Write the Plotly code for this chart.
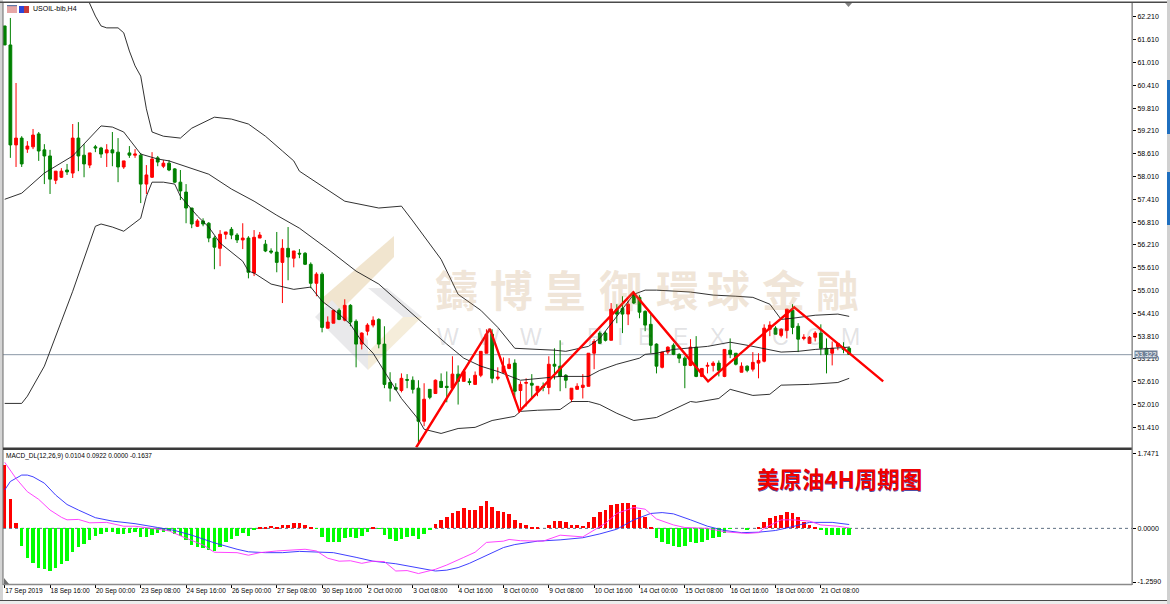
import plotly.graph_objects as go

# ---------- price data (H4 bars) ----------
open_ = [61.97,61.47,58.84,59.02,58.73,58.79,59.13,58.71,58.55,57.91,57.99,58.18,58.10,59.02,58.57,58.31,58.79,58.76,58.63,58.71,
58.65,58.26,58.63,58.57,58.57,57.81,57.99,58.50,58.28,58.36,58.21,57.86,57.60,57.18,56.70,56.84,56.78,56.39,56.12,56.49,
56.62,56.47,56.34,56.39,55.47,56.39,56.23,56.05,56.02,55.75,56.12,55.86,55.99,55.99,55.70,55.20,55.44,54.02,54.15,54.49,
54.23,54.62,54.20,53.60,53.94,54.10,54.25,53.60,52.59,52.46,52.38,52.67,52.65,52.44,51.57,52.41,52.30,52.62,52.49,52.44,
52.81,52.62,52.62,52.54,52.78,53.36,53.86,52.70,52.86,52.96,53.10,52.38,52.57,52.57,52.36,52.49,52.46,53.07,53.02,52.78,
52.15,52.41,52.46,52.49,53.36,53.89,53.89,53.70,54.52,54.54,54.39,54.91,54.83,54.46,54.12,53.60,52.99,53.39,53.57,53.33,
53.23,53.04,53.52,52.75,53.02,53.04,53.10,52.75,53.44,53.36,52.86,53.02,52.94,53.10,53.15,53.99,54.02,53.83,53.96,54.49,
54.07,53.75,53.62,53.78,53.89,53.49,53.36,53.54,53.52,53.49]
high = [61.97,62.18,60.47,59.07,58.94,59.26,59.18,58.86,58.71,58.15,58.23,58.34,59.39,59.44,58.86,58.63,58.84,58.79,58.86,59.18,
59.02,58.42,58.81,58.73,58.63,58.31,58.65,58.55,58.44,58.44,58.23,58.18,57.81,57.18,56.89,56.91,56.81,56.44,56.60,56.55,
56.68,56.52,56.78,56.44,56.60,56.55,56.34,56.12,56.55,56.36,56.68,56.05,56.10,56.02,55.75,55.49,55.49,54.33,54.49,54.54,
54.78,54.65,54.25,53.91,54.15,54.33,54.28,54.07,52.86,52.57,52.83,52.81,52.75,52.65,52.57,52.41,52.67,52.83,52.88,53.28,
53.04,52.94,52.70,52.88,53.41,53.99,53.99,52.99,53.25,53.23,53.20,52.62,52.70,52.81,52.49,52.59,53.28,53.49,53.70,52.81,
52.44,52.57,52.81,53.36,53.73,53.94,53.94,54.68,54.65,54.86,54.75,54.99,54.89,54.49,54.39,53.62,53.39,53.54,53.62,53.36,
53.28,53.73,53.81,52.96,53.12,53.15,53.17,53.46,53.75,53.36,53.12,53.04,53.39,53.36,54.12,54.20,54.07,54.02,54.52,54.65,
54.15,53.86,53.81,53.94,54.12,53.75,53.67,53.62,53.65,53.54]
low = [61.47,58.50,58.26,58.26,58.63,58.73,58.42,57.81,57.55,57.81,57.97,58.05,57.97,58.15,57.99,58.23,58.65,58.50,58.26,58.28,
57.86,58.21,58.50,58.50,57.31,57.55,57.97,58.28,58.23,58.15,57.84,57.39,56.78,56.65,56.68,56.70,56.28,55.57,55.65,56.36,
56.36,56.26,56.10,55.33,55.39,56.39,56.02,55.97,55.49,54.68,55.28,55.62,55.86,55.68,55.07,54.86,53.91,54.02,54.15,54.23,
54.20,54.07,52.99,53.46,53.83,54.04,53.49,52.44,52.09,52.38,52.33,52.44,52.30,50.99,51.44,52.15,52.30,52.46,52.07,52.44,
52.01,52.62,52.52,52.54,52.73,53.36,52.57,52.65,52.83,52.94,52.17,51.91,51.96,52.17,52.23,52.36,52.28,52.67,52.36,52.44,
52.07,52.41,52.17,52.49,52.94,53.60,53.67,53.70,54.15,53.89,54.10,54.65,54.28,53.94,53.36,52.83,52.96,53.33,53.31,53.10,
52.44,53.02,52.73,52.73,52.83,52.88,52.75,52.73,53.23,53.04,52.86,52.86,52.88,52.70,53.12,53.81,53.86,53.78,53.75,53.86,
53.39,53.70,53.62,53.67,53.31,52.83,53.04,53.44,53.36,53.33]
close = [61.47,58.84,59.02,58.34,58.81,59.10,58.68,58.55,57.94,58.15,58.15,58.13,59.02,58.55,58.34,58.63,58.76,58.60,58.71,58.63,
58.26,58.42,58.57,58.60,57.81,58.05,58.47,58.39,58.36,58.18,57.86,57.63,57.18,56.76,56.84,56.76,56.39,56.15,56.49,56.55,
56.47,56.34,56.39,55.49,56.41,56.47,56.05,56.02,55.75,56.12,55.89,56.05,55.97,55.70,55.20,55.44,54.04,54.18,54.49,54.25,
54.62,54.18,53.60,53.89,54.10,54.23,53.60,52.54,52.44,52.41,52.70,52.65,52.41,51.57,52.15,52.20,52.65,52.46,52.46,52.81,
52.62,52.88,52.59,52.78,53.41,53.86,52.70,52.73,53.02,53.07,52.36,52.54,52.59,52.52,52.49,52.46,53.07,53.02,52.75,52.65,
52.44,52.49,52.52,53.36,53.67,53.62,53.70,54.52,54.39,54.39,54.65,54.68,54.44,54.10,53.57,53.02,53.39,53.52,53.33,53.23,
53.04,53.52,52.75,52.96,53.04,53.10,52.91,53.46,53.33,53.07,53.02,52.91,53.12,53.17,54.02,54.10,53.86,53.99,54.52,54.04,
53.73,53.78,53.78,53.89,53.49,53.33,53.49,53.62,53.46,53.33]
bars = list(range(len(close)))
last_price = 53.322

# ---------- Bollinger bands (bar number, price) ----------
upper_bar = [14,15,16,17,18,20,21,22,23,24,25,26,28,31,33,37,40,43,46,49,51,52,60,66,70,72,75,77,80,84,87,90,97,99,103,105,108,111,113,115,121,125,129,132,135,137,139,143,147,149]
upper_val = [62.89,62.55,62.23,61.97,61.92,61.92,61.79,61.31,60.92,60.65,59.79,59.18,59.07,59.02,59.28,59.57,59.52,59.39,59.07,58.68,58.42,58.15,57.36,57.18,57.23,56.84,56.23,55.83,54.91,54.49,54.04,53.49,53.44,53.41,53.54,53.75,54.33,54.91,55.02,55.02,54.97,54.89,54.86,54.83,54.65,54.25,54.28,54.36,54.39,54.33]
mid_bar = [0,3,7,12,17,19,21,24,27,29,36,40,44,48,52,57,62,66,70,73,78,81,84,87,91,98,103,105,108,112,113,115,118,124,128,131,134,137,140,143,149]
mid_val = [57.41,57.57,58.10,58.55,59.34,59.31,59.18,58.60,58.47,58.42,58.07,57.68,57.36,56.99,56.65,56.10,55.52,55.18,54.65,54.25,53.60,53.23,53.02,52.88,52.65,52.75,52.75,52.91,53.07,53.23,53.33,53.36,53.46,53.54,53.65,53.57,53.49,53.39,53.41,53.46,53.52]
lower_bar = [0,3,4,7,10,12,16,17,19,21,24,25,26,28,30,31,34,36,38,42,43,44,47,51,54,56,59,61,63,65,67,70,73,74,77,80,83,86,90,91,94,98,100,103,105,108,111,115,121,122,126,128,132,135,137,142,147,149]
lower_val = [52.04,52.04,52.23,53.02,54.20,54.99,56.70,56.76,56.68,56.57,56.91,57.49,57.86,57.86,57.81,57.49,56.97,56.68,56.26,55.78,55.52,55.47,55.18,55.04,55.10,54.73,54.39,54.12,53.67,53.36,52.88,52.17,51.62,51.36,51.25,51.38,51.41,51.59,51.70,51.83,51.86,51.88,52.09,52.09,52.01,51.78,51.59,51.67,52.09,52.07,52.17,52.41,52.25,52.28,52.52,52.54,52.59,52.70]

# ---------- hand-drawn red trend line ----------
trend_bar = [72.6,85.6,90.8,110.9,124.1,139.3,155.0]
trend_val = [50.88,54.00,51.83,54.96,52.62,54.57,52.62]

# ---------- MACD ----------
hist = [1.49,0.69,0.125,-0.41,-0.70,-0.82,-0.92,-0.95,-1.00,-0.92,-0.84,-0.76,-0.55,-0.43,-0.36,-0.27,-0.17,-0.125,-0.09,-0.08,
-0.13,-0.125,-0.11,-0.09,-0.20,-0.20,-0.16,-0.11,-0.08,-0.06,-0.13,-0.18,-0.28,-0.39,-0.44,-0.45,-0.50,-0.52,-0.43,-0.33,
-0.25,-0.18,-0.10,-0.17,-0.05,0.02,0.04,0.055,0.03,0.07,0.08,0.12,0.12,0.09,0.01,-0.01,-0.21,-0.31,-0.33,-0.31,
-0.23,-0.20,-0.22,-0.17,-0.09,0.02,-0.01,-0.16,-0.26,-0.29,-0.26,-0.20,-0.18,-0.24,-0.125,-0.03,0.10,0.19,0.26,0.36,
0.41,0.47,0.43,0.43,0.52,0.64,0.51,0.41,0.38,0.34,0.20,0.125,0.08,0.04,0.03,0.0,0.09,0.17,0.17,0.14,
0.09,0.07,0.055,0.14,0.27,0.38,0.43,0.55,0.58,0.59,0.60,0.55,0.43,0.27,0.03,-0.22,-0.33,-0.37,-0.41,-0.43,
-0.42,-0.33,-0.34,-0.33,-0.27,-0.22,-0.20,-0.10,-0.01,0.0,0.0,-0.03,0.0,0.01,0.15,0.25,0.29,0.31,0.38,0.35,
0.26,0.14,0.08,0.03,-0.05,-0.15,-0.16,-0.16,-0.15,-0.16]
signal_bar = [0,1,3,4,5,7,9,11,13,16,19,23,27,30,33,37,41,43,46,49,52,56,58,62,65,69,73,76,78,80,82,85,88,90,94,98,102,105,108,111,114,116,118,121,124,127,130,133,136,139,142,146,149]
signal_val = [0.90,1.10,1.25,1.25,1.21,1.06,0.78,0.56,0.43,0.25,0.17,0.11,0.02,-0.05,-0.16,-0.34,-0.49,-0.55,-0.57,-0.57,-0.54,-0.55,-0.57,-0.68,-0.77,-0.83,-0.92,-1.00,-0.98,-0.92,-0.82,-0.63,-0.45,-0.38,-0.30,-0.27,-0.22,-0.13,-0.02,0.20,0.35,0.37,0.34,0.20,0.05,-0.05,-0.10,-0.09,-0.05,0.04,0.14,0.14,0.09]
macd_bar = [0,2,4,6,8,10,11,13,15,18,21,23,26,29,32,35,37,39,41,43,45,48,53,55,57,59,61,63,65,67,69,71,73,76,78,81,83,85,88,89,91,95,98,102,105,106,108,111,113,115,118,120,124,127,131,133,134,137,139,142,144,147,149]
macd_val = [1.55,1.17,0.86,0.68,0.43,0.26,0.20,0.21,0.13,0.14,0.05,0.05,0.0,-0.06,-0.23,-0.39,-0.56,-0.57,-0.57,-0.63,-0.57,-0.53,-0.49,-0.53,-0.70,-0.77,-0.76,-0.82,-0.77,-0.78,-1.00,-0.99,-1.06,-0.96,-0.86,-0.68,-0.56,-0.33,-0.30,-0.26,-0.29,-0.30,-0.16,-0.20,0.04,0.12,0.35,0.49,0.45,0.22,0.08,0.02,0.0,-0.08,-0.12,-0.10,0.0,0.20,0.20,0.17,0.08,0.05,0.01]

# ---------- axis labels ----------
price_ticks = [62.21,61.61,61.01,60.41,59.81,59.21,58.61,58.01,57.41,56.81,56.21,55.61,55.01,54.41,53.81,53.21,52.61,52.01,51.41]
macd_ticks = [1.7471,0.0,-1.2590]
macd_labels = ["1.7471","0.0000","-1.2590"]
time_ticks = [0,8,16,24,32,40,48,56,64,72,80,88,96,104,112,120,128,136,144]
time_labels = ["17 Sep 2019","18 Sep 16:00","20 Sep 00:00","23 Sep 08:00","24 Sep 16:00","26 Sep 00:00","27 Sep 08:00",
               "30 Sep 16:00","2 Oct 00:00","3 Oct 08:00","4 Oct 16:00","8 Oct 00:00","9 Oct 08:00","10 Oct 16:00",
               "14 Oct 00:00","15 Oct 08:00","16 Oct 16:00","18 Oct 00:00","21 Oct 08:00"]
watermark_cn = "鑄博皇御環球金融"
watermark_en = "WWW.RIBEX.COM"

W, H = 1170, 604
FONT = "Liberation Sans"
def fx(px): return px / W
def fy(py): return 1 - py / H
def poly(points, color):
    d = "M " + " L ".join(f"{fx(a):.5f},{fy(b):.5f}" for a, b in points) + " Z"
    return dict(type="path", xref="paper", yref="paper", path=d, fillcolor=color, line=dict(width=0), layer="below")
def rect(x0, y0, x1, y1, color, layer="above"):
    return dict(type="rect", xref="paper", yref="paper", x0=fx(x0), x1=fx(x1), y0=fy(y0), y1=fy(y1),
                fillcolor=color, line=dict(width=0), layer=layer)

fig = go.Figure()
fig.add_trace(go.Candlestick(x=bars, open=open_, high=high, low=low, close=close, xaxis="x", yaxis="y", whiskerwidth=0,
    increasing=dict(line=dict(color="#ff0000", width=1), fillcolor="#ff0000"),
    decreasing=dict(line=dict(color="#008000", width=1), fillcolor="#008000")))
for bx, by in [(upper_bar, upper_val), (mid_bar, mid_val), (lower_bar, lower_val)]:
    fig.add_trace(go.Scatter(x=bx, y=by, mode="lines", xaxis="x", yaxis="y", line=dict(color="#1a1a1a", width=0.9)))
fig.add_trace(go.Scatter(x=trend_bar, y=trend_val, mode="lines", xaxis="x", yaxis="y", line=dict(color="#ff0000", width=2.4)))

fig.add_trace(go.Bar(x=bars, y=hist, xaxis="x2", yaxis="y2", width=0.62,
                     marker=dict(color=["#ff0000" if v > 0 else "#00ff00" for v in hist], line=dict(width=0))))
fig.add_trace(go.Scatter(x=signal_bar, y=signal_val, mode="lines", xaxis="x2", yaxis="y2", line=dict(color="#2a2aff", width=0.9)))
fig.add_trace(go.Scatter(x=macd_bar, y=macd_val, mode="lines", xaxis="x2", yaxis="y2", line=dict(color="#ff30ff", width=0.9)))

shapes = [
    # watermark logo
    poly([(394,236),(394,257),(336,315),(320,300)], "#f1e5cf"),
    poly([(422,317),(403,317),(368,352),(368,370)], "#f5edda"),
    poly([(368,288),(387,288),(422,317),(403,317)], "#e9e9eb"),
    poly([(315,317),(332,300),(368,340),(368,370)], "#e9e9eb"),
    # current price line and MACD zero line
    dict(type="line", xref="paper", yref="y", x0=fx(3), x1=fx(1132), y0=last_price, y1=last_price,
         line=dict(color="#8a97a6", width=1), layer="below"),
    dict(type="line", xref="paper", yref="y2", x0=fx(3), x1=fx(1132), y0=0, y1=0,
         line=dict(color="#5f7183", width=1, dash="3px,3px"), layer="below"),
    # frames
    rect(0, 0, 3, 604, "#d4d4d4"),
    rect(0, 1.5, 1167, 3, "#4a4a4a"),
    rect(2.5, 3, 3.5, 585, "#6a6a6a"),
    rect(3, 447.5, 1132, 450, "#3a3a3a"),
    rect(1131.5, 3, 1132.8, 585, "#7a7a7a"),
    rect(3, 583.8, 1132, 585.2, "#8a8a8a"),
    rect(0, 600, 1167, 601, "#4a4a4a"),
    rect(0, 601, 1167, 604, "#ededed"),
    rect(1167, 0, 1170, 604, "#d0d0d0"),
    rect(1167, 80, 1170, 134, "#1f6fbf"),
    rect(1167, 172, 1170, 225, "#1f6fbf"),
    # chart window icons
    rect(7, 5, 17, 13, "#e6a6a6"),
    rect(7, 5, 17, 6.2, "#5f78a8"),
    rect(19, 6, 24, 13, "#2a46d8"),
    rect(24, 6, 29, 13, "#c83a3a"),
    # shift markers
    poly([(845,3),(852,3),(848.5,7)], "#808080"),
    poly([(4,578),(4,584),(9,584)], "#707070"),
]
shapes[-1]["layer"] = "above"; shapes[-2]["layer"] = "above"

ann = []
cn_x = [456,511,564,620,677,728,783,837]
for ch, px in zip(watermark_cn, cn_x):
    ann.append(dict(xref="paper", yref="paper", x=fx(px), y=fy(288), text=ch, showarrow=False, xanchor="center", yanchor="middle",
                    font=dict(family="Noto Sans CJK TC", size=43, weight=700, color="rgba(190,140,80,0.22)")))
en_x = [448,489,531,562,595,620,645,680,717,750,780,815,850]
for ch, px in zip(watermark_en, en_x):
    ann.append(dict(xref="paper", yref="paper", x=fx(px), y=fy(337), text=ch, showarrow=False, xanchor="center", yanchor="middle",
                    font=dict(family=FONT, size=23, color="rgba(110,110,120,0.2)")))
ann += [
    dict(xref="paper", yref="paper", x=fx(31), y=fy(8.5), text="USOIL-bib,H4", showarrow=False, xanchor="left", yanchor="middle",
         font=dict(family=FONT, size=7, color="#000")),
    dict(xref="paper", yref="paper", x=fx(4), y=fy(456), text="MACD_DL(12,26,9) 0.0104 0.0922 0.0000 -0.1637", showarrow=False,
         xanchor="left", yanchor="middle", font=dict(family=FONT, size=6.5, color="#000")),
    dict(xref="paper", yref="y", x=fx(1134), y=last_price, text=f"{last_price:.3f}", showarrow=False, xanchor="left", yanchor="middle",
         bgcolor="#6f8198", borderpad=0, font=dict(family=FONT, size=7, color="#fff")),
    dict(xref="paper", yref="paper", x=fx(755.4), y=fy(478.5), text="美原油<b>4H</b>周期图", showarrow=False, xanchor="left", yanchor="middle",
         font=dict(family="Noto Sans CJK SC", size=22.5, color="#5050a8", weight=700)),
    dict(xref="paper", yref="paper", x=fx(755), y=fy(478), text="美原油<b>4H</b>周期图", showarrow=False, xanchor="left", yanchor="middle",
         font=dict(family="Noto Sans CJK SC", size=22.5, color="#f00000", weight=700)),
]

xrange_ = [-0.3, 198.9]
xdomain = [fx(3), fx(1132)]
tickfont = dict(family=FONT, size=7, color="#000")
fig.update_layout(
    width=W, height=H, margin=dict(l=0, r=0, t=0, b=0), autosize=False,
    paper_bgcolor="#ffffff", plot_bgcolor="#ffffff", showlegend=False, bargap=0, hovermode=False,
    shapes=shapes, annotations=ann,
    xaxis=dict(domain=xdomain, range=xrange_, anchor="y", showgrid=False, zeroline=False, showticklabels=False, ticks="",
               rangeslider=dict(visible=False), fixedrange=True),
    yaxis=dict(domain=[fy(447.5), fy(3)], range=[50.88, 62.574], side="right", anchor="x", showgrid=False, zeroline=False,
               tickmode="array", tickvals=price_ticks, ticktext=[f"{v:.3f}" for v in price_ticks], ticks="outside", ticklen=3,
               tickcolor="#000", tickfont=tickfont, fixedrange=True),
    xaxis2=dict(domain=xdomain, range=xrange_, anchor="y2", matches="x", showgrid=False, zeroline=False, tickmode="array",
                tickvals=time_ticks, ticktext=time_labels, ticks="outside", ticklen=3, tickcolor="#000",
                tickfont=dict(family=FONT, size=6.6, color="#000"),
                ticklabelposition="outside right", tickangle=0, fixedrange=True),
    yaxis2=dict(domain=[fy(584), fy(450)], range=[-1.305, 1.838], side="right", anchor="x2", showgrid=False, zeroline=False,
                tickmode="array", tickvals=macd_ticks, ticktext=macd_labels, ticks="outside", ticklen=3, tickcolor="#000",
                tickfont=tickfont, fixedrange=True),
)
fig.write_html("out.html", config=dict(displayModeBar=False),
               post_script="document.body.style.margin='0';document.documentElement.style.overflow='hidden';")
